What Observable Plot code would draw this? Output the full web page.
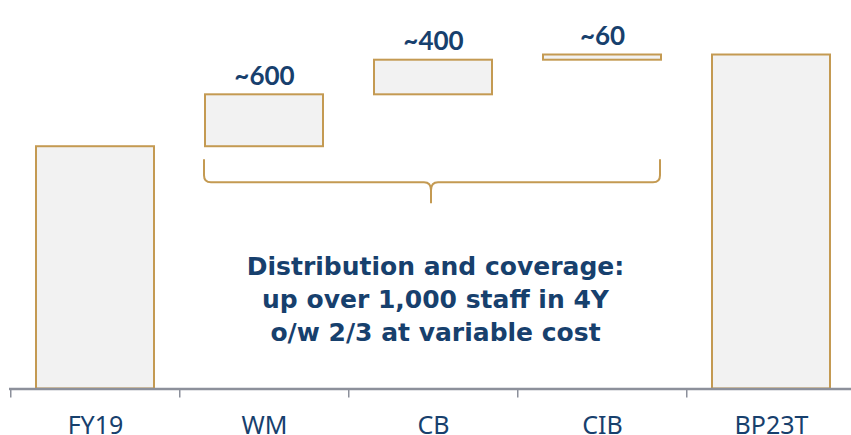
<!DOCTYPE html>
<html>
<head>
<meta charset="utf-8">
<script src="https://cdn.jsdelivr.net/npm/d3@7"></script>
<script src="https://cdn.jsdelivr.net/npm/@observablehq/plot@0.6"></script>
<style>
  html, body { margin: 0; padding: 0; background: #ffffff; }
  #chart svg { display: block; }
</style>
</head>
<body>
<div id="chart"></div>
<script>
// Headcount bridge: FY19 base, additions per business line, BP23 target
const categories = ["FY19", "WM", "CB", "CIB", "BP23T"];
const startValue = 2800;
const stepCategories = ["WM", "CB", "CIB"];
const increments = [600, 400, 60];
const incrementLabels = ["~600", "~400", "~60"];
const annotationLines = [
  "Distribution and coverage:",
  "up over 1,000 staff in 4Y",
  "o/w 2/3 at variable cost"
];

const navy = "#17406d";
const gold = "#c49a52";
const barFill = "#f2f2f2";
const axisGray = "#8c909b";

// Floating bars: each step starts where the previous one ended
let running = startValue;
const steps = stepCategories.map((cat, i) => {
  const row = {cat, y1: running, y2: running + increments[i], label: incrementLabels[i]};
  running += increments[i];
  return row;
});
const endValue = running;
const rows = [
  {cat: "FY19", y1: 0, y2: startValue},
  ...steps,
  {cat: "BP23T", y1: 0, y2: endValue}
];

// Curly brace under the three step bars, hanging below the FY19 level
function brace(index, scales) {
  const x = scales.x, y = scales.y;
  const bw = typeof x.bandwidth === "function" ? x.bandwidth() : scales.scales.x.bandwidth;
  const x0 = x("WM") - 1, x1 = x("CIB") + bw - 1;
  const xc = (x("CB") + bw / 2) - 2;
  const yTop = y(startValue) + 13, yH = yTop + 23, yTip = yH + 21, r = 7;
  const d = [
    `M${x0},${yTop} L${x0},${yH - r} Q${x0},${yH} ${x0 + r},${yH}`,
    `L${xc - r},${yH} Q${xc},${yH} ${xc},${yH + 8} L${xc},${yTip}`,
    `M${x1},${yTop} L${x1},${yH - r} Q${x1},${yH} ${x1 - r},${yH}`,
    `L${xc + r},${yH} Q${xc},${yH} ${xc},${yH + 8}`
  ].join(" ");
  return d3.create("svg:path")
    .attr("d", d)
    .attr("fill", "none")
    .attr("stroke", gold)
    .attr("stroke-width", 2)
    .node();
}

const chart = Plot.plot({
  width: 851,
  height: 435,
  marginTop: 0,
  marginBottom: 46.5,
  marginLeft: 9,
  marginRight: -5.5,
  style: {background: "#ffffff", fontFamily: "Noto Sans", color: navy},
  x: {domain: categories, paddingInner: 0.3, paddingOuter: 0.15, axis: null, label: null},
  y: {domain: [0, 4490], axis: null},
  marks: [
    Plot.barY(rows, {x: "cat", y1: "y1", y2: "y2", fill: barFill, stroke: gold, strokeWidth: 2}),
    brace,
    Plot.text(steps, {
      x: "cat", y: "y2", text: "label",
      lineAnchor: "bottom", dy: -10,
      fontFamily: "Lato", fontWeight: "bold", fontSize: 26, fill: navy
    }),
    Plot.text([annotationLines.join("\n")], {
      x: () => "CB", frameAnchor: "bottom", dy: -91.5, dx: 2,
      lineAnchor: "middle", lineHeight: 1.33,
      fontFamily: "DejaVu Sans", fontWeight: "bold", fontSize: 25, fill: navy
    }),
    Plot.ruleY([0], {stroke: axisGray, strokeWidth: 2.5}),
    Plot.axisX({
      tickSize: 9, tickFormat: () => "", dx: -84.75, label: null,
      stroke: axisGray, strokeWidth: 1.5
    }),
    Plot.axisX({
      tickSize: 0, tickPadding: 27, label: null,
      fontSize: 25, fontFamily: "Noto Sans", fill: navy
    })
  ]
});

document.getElementById("chart").append(chart);
</script>
</body>
</html>
